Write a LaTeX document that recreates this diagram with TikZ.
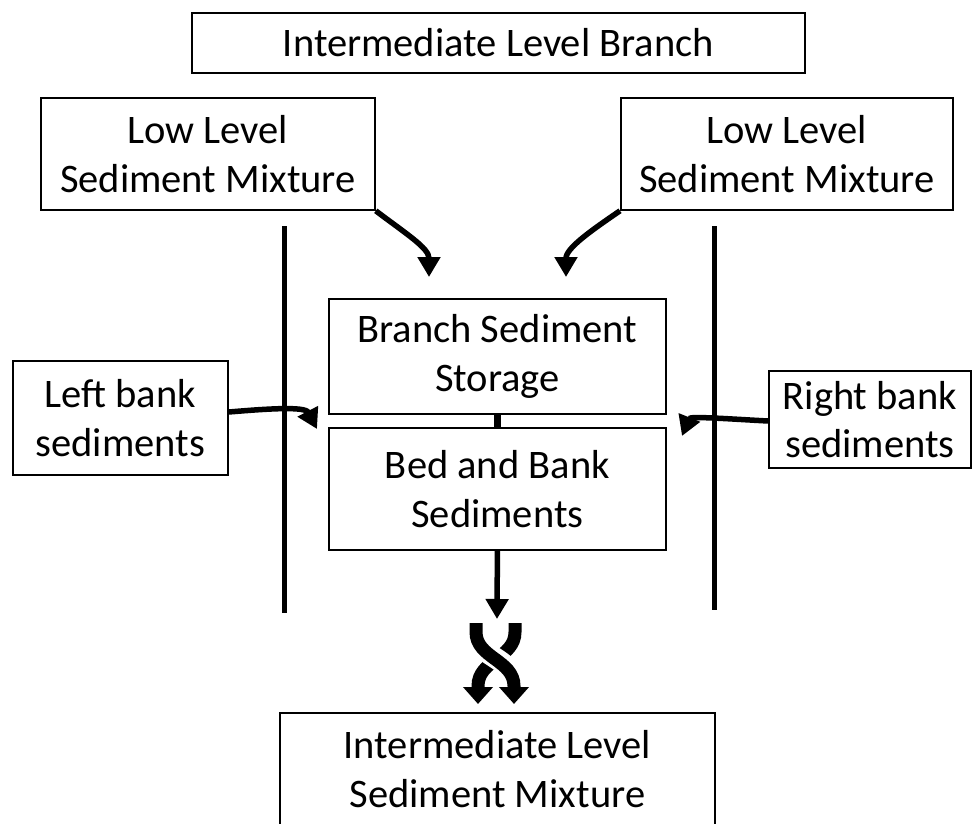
\documentclass[tikz,border=0pt]{standalone}
\usepackage{fontspec}
\setmainfont{Carlito}
\usetikzlibrary{arrows.meta}
\begin{document}
\begin{tikzpicture}[x=1pt,y=-1pt,
  box/.style={draw, line width=1.8pt, align=center, inner sep=0pt, anchor=north west,
    font=\fontsize{40.5}{48.5}\selectfont},
  wall/.style={line width=5pt},
  flow/.style={line width=5.5pt, -{Triangle[width=22pt,length=20pt]}},
  twist/.style={line width=13pt, -{Triangle[width=29pt,length=17pt]}},
  ]
\useasboundingbox (0,0) rectangle (972,824);

% boxes
\node[box, minimum width=613pt, minimum height=60pt]  (top)    at (191,12)  {Intermediate Level Branch};
\node[box, minimum width=334pt, minimum height=112pt] (lowL)   at (40,97)   {Low Level\\Sediment Mixture};
\node[box, minimum width=332pt, minimum height=112pt] (lowR)   at (620,97)  {Low Level\\Sediment Mixture};
\node[box, minimum width=337pt, minimum height=115pt] (store)  at (328,298) {Branch Sediment\\Storage};
\node[box, minimum width=337pt, minimum height=122pt] (bed)    at (328,427) {Bed and Bank\\Sediments};
\node[box, minimum width=215pt, minimum height=114pt] (leftb)  at (12,360)  {Left bank\\sediments};
\node[box, minimum width=202pt, minimum height=97pt]  (rightb) at (768,370) {Right bank\\sediments};
\node[box, minimum width=435pt, minimum height=112pt] (mix)    at (279,712) {Intermediate Level\\Sediment Mixture};

% channel walls
\coordinate (wLt) at (284,226); \coordinate (wLb) at (284,613);
\coordinate (wRt) at (714,226); \coordinate (wRb) at (714,610);
\draw[wall] (wLt) -- (wLb);
\draw[wall] (wRt) -- (wRb);

% link between the two storage boxes
\draw[line width=7pt] (store.south) -- (bed.north);

% inflows
\coordinate (inL) at (429,277);
\coordinate (inR) at (566,277);
\coordinate (inLB) at (317,429);
\coordinate (inRB) at (682,436);
\coordinate (outB) at (497,619);
\draw[flow] (lowL.south east) .. controls (405,233) and (429,248) .. (inL);
\draw[flow] (lowR.south west) .. controls (592,230) and (566,248) .. (inR);
\draw[flow] ([yshift=-52pt]leftb.north east) .. controls (265,409) and (305,406) .. (inLB);
\draw[flow] ([yshift=-51pt]rightb.north west) .. controls (730,419) and (690,416) .. (inRB);
\draw[flow] (bed.south) -- (outB);

% twisted outflow
\coordinate (tA) at (515,623); \coordinate (tAe) at (478,704);
\coordinate (tB) at (476,623); \coordinate (tBe) at (514,704);
\draw[twist] (tA) -- (515,632) .. controls (515,658) and (478,660) .. (478,686) -- (tAe);
\draw[white, line width=21pt] (478,642) .. controls (484,656) and (508,660) .. (512,676);
\draw[twist] (tB) -- (476,632) .. controls (476,658) and (514,660) .. (514,686) -- (tBe);
\end{tikzpicture}
\end{document}
